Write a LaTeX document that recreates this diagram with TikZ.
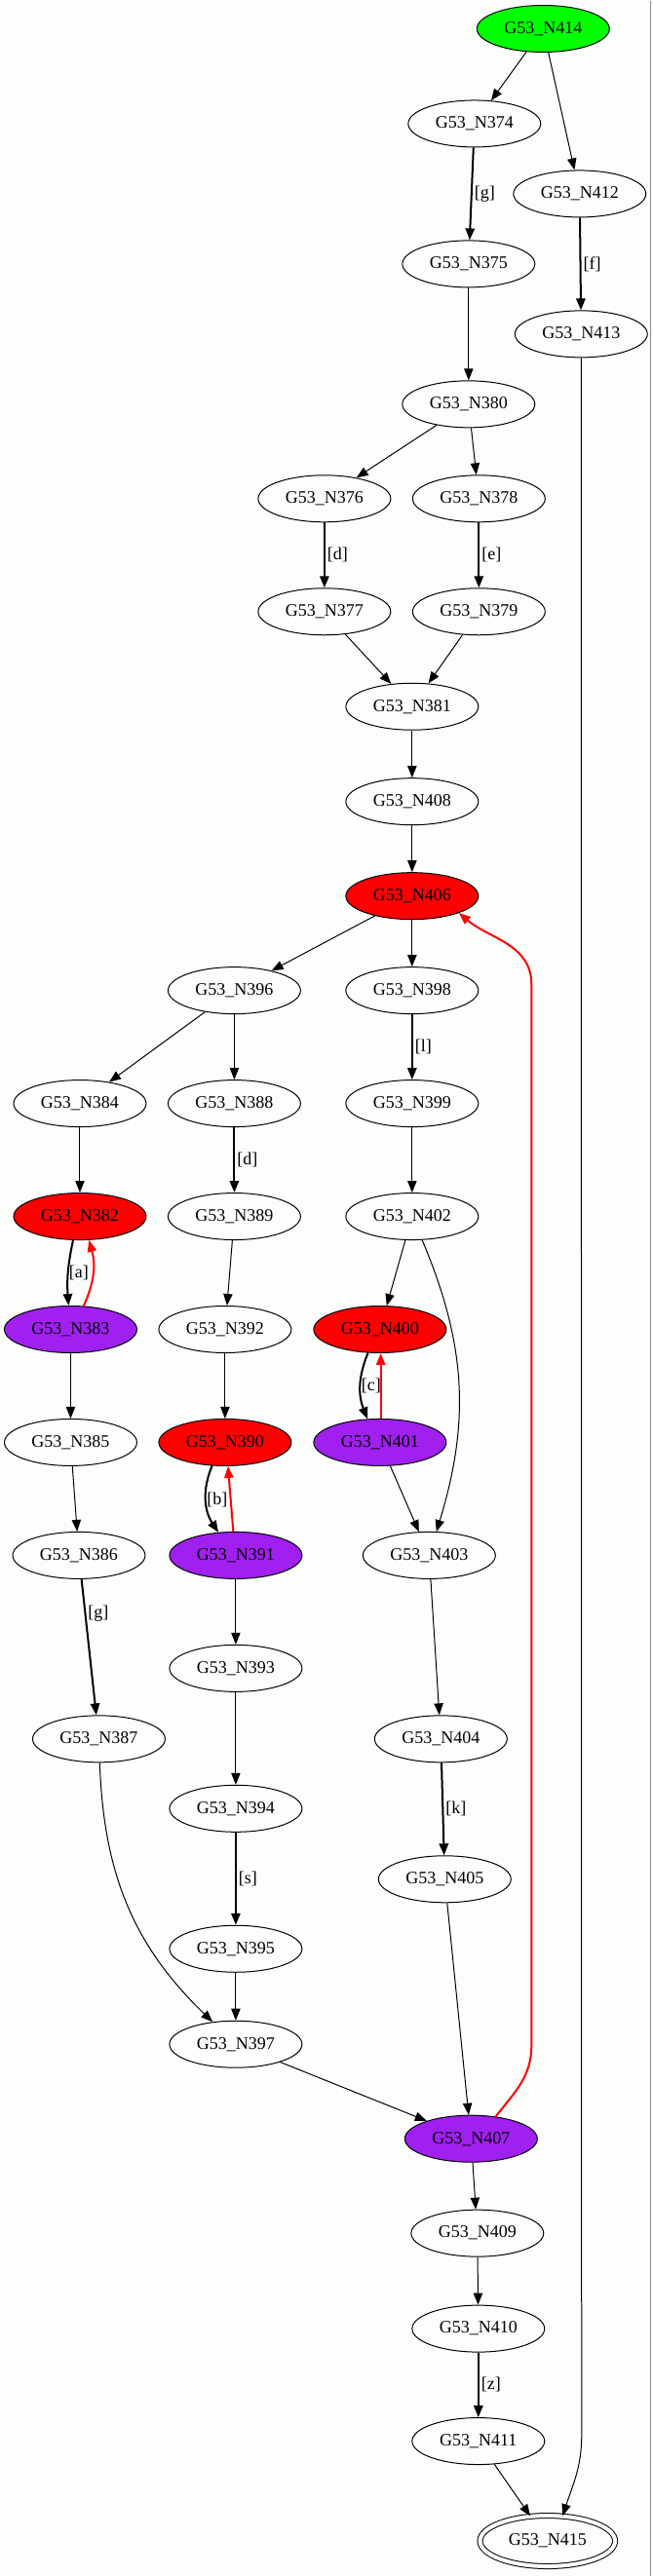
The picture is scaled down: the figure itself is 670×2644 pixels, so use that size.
\documentclass[tikz,border=0pt]{standalone}
\usepackage{fontspec}
\setmainfont{Liberation Serif}
\usetikzlibrary{arrows.meta, shapes.geometric}
\definecolor{cgreen}{HTML}{00FF00}
\definecolor{cred}{HTML}{FF0000}
\definecolor{cpurple}{HTML}{A020F0}
\definecolor{cpaper}{HTML}{FCFEFC}
\definecolor{cgrey}{HTML}{8C8C8C}
\tikzset{
  every picture/.style={font=\fontsize{13.5}{16}\selectfont, line width=0.75pt},
  state/.style={ellipse, draw=black, fill=#1, minimum width=102pt, minimum height=36pt, inner sep=0pt},
  state/.default=cpaper,
  final/.style={state, double, double distance=3pt, minimum width=104pt, minimum height=39pt},
  arrow/.style={-{Triangle[length=9pt, width=7pt]}, draw=black, line width=0.75pt},
  boldarrow/.style={arrow, line width=1.5pt},
  backarrow/.style={arrow, draw=cred, line width=1.5pt},
  elabel/.style={right, inner sep=1.5pt},
  clabel/.style={right, inner sep=0pt},
}

\begin{document}
\begin{tikzpicture}[x=0.75pt, y=-0.75pt]
  \fill[cpaper] (0,0) rectangle (670,2644);
  \draw[cgrey] (668,0) -- (668,2644);
  % top part
  \node[state=cgreen] (n414) at (557.5,29) {G53\_N414};
  \node[state] (n374) at (487,126.5) {G53\_N374};
  \node[state] (n412) at (595,198.5) {G53\_N412};
  \node[state] (n375) at (481,270.5) {G53\_N375};
  \node[state] (n413) at (596.5,342.5) {G53\_N413};
  \node[state] (n380) at (481,414.5) {G53\_N380};
  \node[state] (n376) at (333,511.5) {G53\_N376};
  \node[state] (n378) at (491.5,511.5) {G53\_N378};
  \node[state] (n377) at (333,627.5) {G53\_N377};
  \node[state] (n379) at (491.5,627.5) {G53\_N379};
  \node[state] (n381) at (423,725) {G53\_N381};
  \node[state] (n408) at (423,822.5) {G53\_N408};
  \node[state=cred] (n406) at (423,919.5) {G53\_N406};
  % three branches
  \node[state] (n396) at (240.5,1016.5) {G53\_N396};
  \node[state] (n398) at (423,1016.5) {G53\_N398};
  \node[state] (n384) at (82,1132.5) {G53\_N384};
  \node[state] (n388) at (240.5,1132.5) {G53\_N388};
  \node[state] (n399) at (423,1132.5) {G53\_N399};
  \node[state=cred] (n382) at (82,1248.5) {G53\_N382};
  \node[state] (n389) at (240.5,1248.5) {G53\_N389};
  \node[state] (n402) at (423,1248.5) {G53\_N402};
  \node[state=cpurple] (n383) at (72.5,1364.5) {G53\_N383};
  \node[state] (n392) at (231,1364.5) {G53\_N392};
  \node[state=cred] (n400) at (390,1364.5) {G53\_N400};
  \node[state] (n385) at (72.5,1480.5) {G53\_N385};
  \node[state=cred] (n390) at (231,1480.5) {G53\_N390};
  \node[state=cpurple] (n401) at (390,1480.5) {G53\_N401};
  \node[state] (n386) at (81,1596.5) {G53\_N386};
  \node[state=cpurple] (n391) at (242,1596.5) {G53\_N391};
  \node[state] (n403) at (440.5,1596.5) {G53\_N403};
  \node[state] (n393) at (242,1712.5) {G53\_N393};
  \node[state] (n387) at (101.5,1785) {G53\_N387};
  \node[state] (n404) at (452.5,1785) {G53\_N404};
  \node[state] (n394) at (242,1856.5) {G53\_N394};
  \node[state] (n405) at (456.5,1929) {G53\_N405};
  \node[state] (n395) at (242,2000.5) {G53\_N395};
  \node[state] (n397) at (242,2098.5) {G53\_N397};
  % bottom part
  \node[state=cpurple] (n407) at (483.5,2195.5) {G53\_N407};
  \node[state] (n409) at (490,2292.5) {G53\_N409};
  \node[state] (n410) at (491,2390.5) {G53\_N410};
  \node[state] (n411) at (491,2506) {G53\_N411};
  \node[final] (n415) at (562,2608.5) {G53\_N415};

  \draw[arrow] (n414) -- (n374);
  \draw[arrow] (n414) -- (n412);
  \draw[boldarrow] (n374) -- node[elabel] {[g]} (n375);
  \draw[boldarrow] (n412) -- node[elabel] {[f]} (n413);
  \draw[arrow] (n375) -- (n380);
  \draw[arrow] (n380) -- (n376);
  \draw[arrow] (n380) -- (n378);
  \draw[boldarrow] (n376) -- node[elabel] {[d]} (n377);
  \draw[boldarrow] (n378) -- node[elabel] {[e]} (n379);
  \draw[arrow] (n377) -- (n381);
  \draw[arrow] (n379) -- (n381);
  \draw[arrow] (n381) -- (n408);
  \draw[arrow] (n408) -- (n406);
  \draw[arrow] (n406) -- (n396);
  \draw[arrow] (n406) -- (n398);
  \draw[arrow] (n396) -- (n384);
  \draw[arrow] (n396) -- (n388);
  \draw[boldarrow] (n398) -- node[elabel] {[l]} (n399);
  \draw[arrow] (n384) -- (n382);
  \draw[boldarrow] (n388) -- node[elabel] {[d]} (n389);
  \draw[arrow] (n399) -- (n402);
  \draw[boldarrow] (n382.-106) to[bend right=8] node[clabel] {[a]} (n383.95);
  \draw[backarrow] (n383.61) to[bend right=20] (n382.-69);
  \draw[arrow] (n389) -- (n392);
  \draw[arrow] (n402) -- (n400);
  \draw[arrow] (n402) to[out=-67, in=73] (n403);
  \draw[arrow] (n383) -- (n385);
  \draw[arrow] (n392) -- (n390);
  \draw[boldarrow] (n400.-117) to[bend right=22] node[clabel] {[c]} (n401.118);
  \draw[backarrow] (n401.88) -- (n400.-88);
  \draw[boldarrow] (n390.-119) to[bend right=28] node[clabel] {[b]} (n391.127);
  \draw[backarrow] (n391.96) -- (n390.-83);
  \draw[arrow] (n385) -- (n386);
  \draw[boldarrow] (n386) -- node[elabel, pos=0.25] {[g]} (n387);
  \draw[arrow] (n401) -- (n403);
  \draw[arrow] (n391) -- (n393);
  \draw[arrow] (n403) -- (n404);
  \draw[arrow] (n393) -- (n394);
  \draw[boldarrow] (n404) -- node[elabel] {[k]} (n405);
  \draw[boldarrow] (n394) -- node[elabel] {[s]} (n395);
  \draw[arrow] (n387) to[out=-88, in=136] (n397);
  \draw[arrow] (n395) -- (n397);
  \draw[arrow] (n397) -- (n407);
  \draw[arrow] (n405) -- (n407);
  \draw[backarrow] (n407.42) to[out=52, in=-90] (545.5,2100) -- (545.5,1010) to[out=90, in=-40] (n406.-20);
  \draw[arrow] (n407) -- (n409);
  \draw[arrow] (n409) -- (n410);
  \draw[boldarrow] (n410) -- node[elabel] {[z]} (n411);
  \draw[arrow] (n411) -- (n415);
  \draw[arrow] (n413) -- (597,2500) to[out=-90, in=72] (n415.59);
\end{tikzpicture}
\end{document}
